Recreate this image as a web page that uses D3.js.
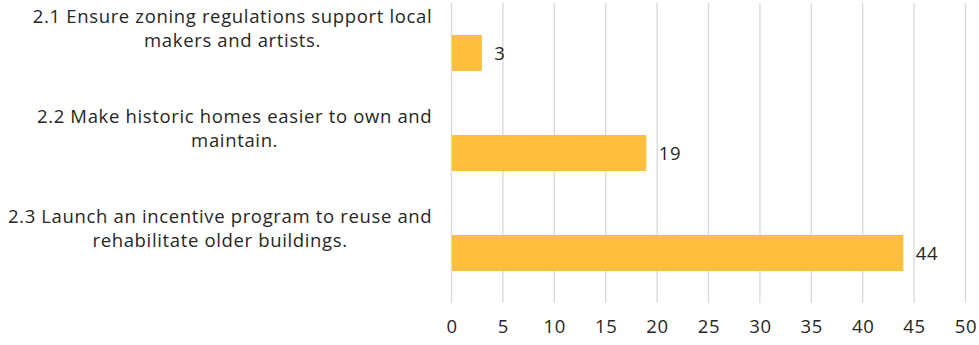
<!DOCTYPE html>
<html><head><meta charset="utf-8">
<script src="https://cdn.jsdelivr.net/npm/d3@7"></script>
<style>body{margin:0;background:#fff}svg{display:block}</style>
</head><body>
<svg id="c" width="979" height="345"></svg>
<script>
const categories = [
  ["2.1 Ensure zoning regulations support local", "makers and artists."],
  ["2.2 Make historic homes easier to own and", "maintain."],
  ["2.3 Launch an incentive program to reuse and", "rehabilitate older buildings."]
];
const values = [3, 19, 44];
const tickValues = [0,5,10,15,20,25,30,35,40,45,50];

const svg = d3.select("#c");
const font = "'Open Sans', Lato, sans-serif";
const fs = 18.5;
const ls = 0.65;
const col = "#262626";
const x = d3.scaleLinear().domain([0,50]).range([451,965]);
const y = d3.scaleBand().domain(d3.range(categories.length)).range([3,303]).paddingInner(0.64).paddingOuter(0.32);

// gridlines
svg.append("g").selectAll("line").data(tickValues).join("line")
  .attr("x1", d=>x(d)+0.5).attr("x2", d=>x(d)+0.5)
  .attr("y1", 3).attr("y2", 303)
  .attr("stroke", "#d9d9d9").attr("stroke-width", 1.3);

// bars
svg.append("g").selectAll("rect").data(values).join("rect")
  .attr("x", x(0)+1).attr("y", (d,i)=>y(i))
  .attr("width", d=>x(d)-x(0)-1).attr("height", y.bandwidth())
  .attr("fill", "#FFBF3C");

// value labels
svg.append("g").selectAll("text").data(values).join("text")
  .attr("x", d=>x(d)+12.5).attr("y", (d,i)=>y(i)+y.bandwidth()/2)
  .attr("dy", "0.36em")
  .attr("font-family", font).attr("font-size", fs).attr("letter-spacing", ls).attr("fill", col)
  .text(d=>d);

// axis tick labels
const xAxis = d3.axisBottom(x).tickValues(tickValues).tickSize(0).tickPadding(0);
const ax = svg.append("g").attr("transform", "translate(0.5,320)").call(xAxis);
ax.select(".domain").remove();
ax.selectAll("text").attr("font-family", font).attr("font-size", fs).attr("letter-spacing", ls).attr("fill", col);

// category labels: lines centered within a block whose right edge is at 432
const rightEdge = 432;
const lab = svg.append("g").selectAll("text").data(categories).join("text")
  .attr("text-anchor", "middle")
  .attr("font-family", font).attr("font-size", fs).attr("letter-spacing", ls).attr("fill", col);
lab.each(function(d,i){
  const t = d3.select(this);
  const b = y(i) + y.bandwidth()/2;
  const spans = d.map((line,j)=> t.append("tspan").attr("y", b - 30 + j*24).text(line));
  const w = d3.max(spans, s => s.node().getComputedTextLength()) - ls;
  spans.forEach(s => s.attr("x", rightEdge - w/2));
});
</script>
</body></html>
